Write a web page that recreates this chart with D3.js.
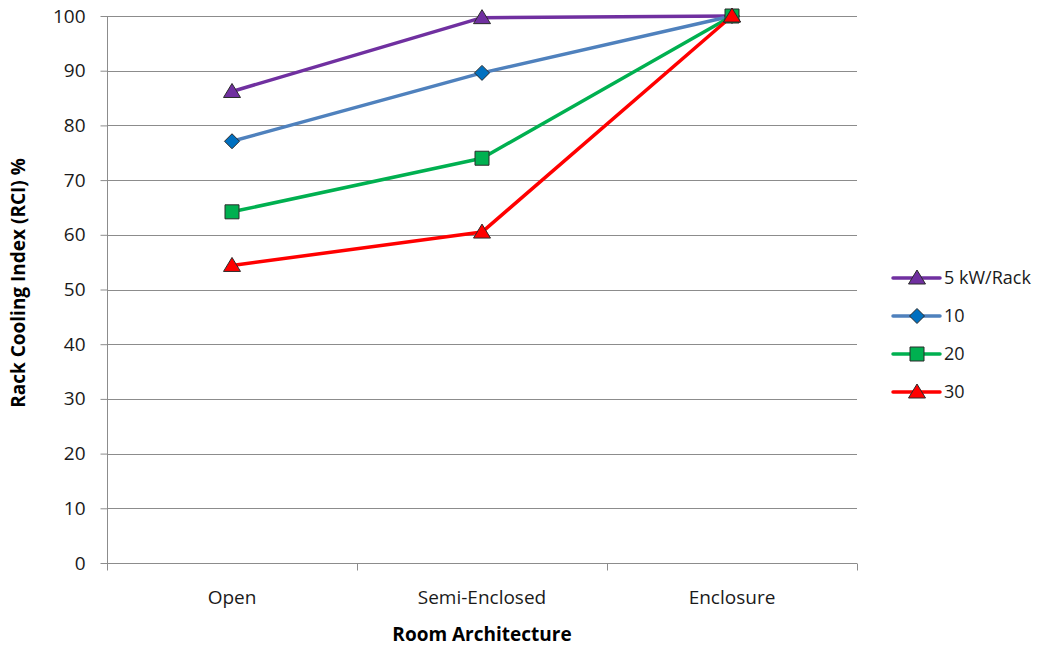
<!DOCTYPE html>
<html>
<head>
<meta charset="utf-8">
<script src="https://cdn.jsdelivr.net/npm/d3@7"></script>
<style>
  html, body { margin: 0; padding: 0; background: #fff; }
  svg { display: block; }
</style>
</head>
<body>
<svg id="chart" width="1047" height="647"></svg>
<script>
// Room architectures along the x axis
const categories = ["Open", "Semi-Enclosed", "Enclosure"];
// Rack Cooling Index (%) per rack power density
const rci5 = [86.2, 99.7, 100];
const rci10 = [77.1, 89.6, 100];
const rci20 = [64.2, 74.0, 100];
const rci30 = [54.4, 60.5, 100];
const seriesNames = ["5 kW/Rack", "10", "20", "30"];
const yTicks = [0, 10, 20, 30, 40, 50, 60, 70, 80, 90, 100];

const series = [
  { name: seriesNames[0], values: rci5, line: "#7030A0", fill: "#7030A0", shape: "triangle" },
  { name: seriesNames[1], values: rci10, line: "#4F81BD", fill: "#0070C0", shape: "diamond" },
  { name: seriesNames[2], values: rci20, line: "#00B050", fill: "#00B050", shape: "square" },
  { name: seriesNames[3], values: rci30, line: "#FF0000", fill: "#FF0000", shape: "triangle" }
];

const svg = d3.select("#chart");
const plot = { left: 107, right: 857, top: 16, bottom: 563 };

const x = d3.scaleBand().domain(categories).range([plot.left, plot.right]).padding(0);
const y = d3.scaleLinear().domain([0, 100]).range([plot.bottom, plot.top]);
const cx = c => x(c) + x.bandwidth() / 2;

const font = "'Open Sans', sans-serif";
const textColor = "#1a1a1a";

// Horizontal gridlines
svg.append("g")
  .selectAll("line")
  .data(yTicks.filter(t => t > 0))
  .join("line")
  .attr("x1", plot.left).attr("x2", plot.right)
  .attr("y1", d => Math.round(y(d)) + 0.5).attr("y2", d => Math.round(y(d)) + 0.5)
  .attr("stroke", "#8C8C8C").attr("stroke-width", 1);

// Y axis
const yAxis = svg.append("g")
  .attr("transform", `translate(${plot.left + 0.5},0)`)
  .call(d3.axisLeft(y).tickValues(yTicks).tickSize(7).tickPadding(15).tickFormat(d3.format("d")));
yAxis.select(".domain").attr("stroke", "#8C8C8C").attr("d", `M0,${plot.top}V${plot.bottom}`);
yAxis.selectAll(".tick line").attr("stroke", "#8C8C8C");
yAxis.selectAll(".tick text")
  .attr("font-family", font).attr("font-size", 19).attr("fill", textColor);

// X axis with boundary ticks between categories
const xAxisG = svg.append("g")
  .attr("transform", `translate(0,${Math.round(plot.bottom) + 0.5})`);
xAxisG.append("line")
  .attr("x1", plot.left).attr("x2", plot.right)
  .attr("stroke", "#8C8C8C");
const bounds = categories.map(c => x(c)).concat([x(categories[categories.length - 1]) + x.bandwidth()]);
xAxisG.selectAll("line.b")
  .data(bounds)
  .join("line")
  .attr("class", "b")
  .attr("x1", d => Math.round(d) + 0.5).attr("x2", d => Math.round(d) + 0.5)
  .attr("y1", 0).attr("y2", 7)
  .attr("stroke", "#8C8C8C");
xAxisG.selectAll("text")
  .data(categories)
  .join("text")
  .attr("x", d => cx(d))
  .attr("y", 40)
  .attr("text-anchor", "middle")
  .attr("font-family", font).attr("font-size", 19)
  .attr("fill", textColor)
  .text(d => d);

// Axis titles
svg.append("text")
  .attr("x", cx(categories[1])).attr("y", 641)
  .attr("text-anchor", "middle")
  .attr("font-family", font).attr("font-weight", "bold").attr("font-size", 19)
  .attr("fill", "#000")
  .text("Room Architecture");

svg.append("text")
  .attr("transform", `translate(25,283) rotate(-90)`)
  .attr("text-anchor", "middle")
  .attr("font-family", font).attr("font-weight", "bold").attr("font-size", 19)
  .attr("fill", "#000")
  .text("Rack Cooling Index (RCI) %");

// Marker shapes
function markerPath(shape) {
  if (shape === "triangle") return "M0,-8L8.5,6L-8.5,6Z";
  if (shape === "diamond") return "M0,-7.5L7.5,0L0,7.5L-7.5,0Z";
  return "M-7,-7H7V7H-7Z";
}

const line = d3.line().x((d, i) => cx(categories[i])).y(d => y(d));

series.forEach(s => {
  svg.append("path")
    .datum(s.values)
    .attr("d", line)
    .attr("fill", "none")
    .attr("stroke", s.line)
    .attr("stroke-width", 3.5)
    .attr("stroke-linejoin", "round");
});
series.forEach(s => {
  svg.append("g")
    .selectAll("path")
    .data(s.values)
    .join("path")
    .attr("transform", (d, i) => `translate(${cx(categories[i])},${y(d)})`)
    .attr("d", markerPath(s.shape))
    .attr("fill", s.fill)
    .attr("stroke", "#2B2B2B")
    .attr("stroke-width", 1);
});

// Legend
const legend = svg.append("g").attr("transform", "translate(893,0)");
const legendY = [278, 316, 354, 392];
series.forEach((s, i) => {
  const g = legend.append("g").attr("transform", `translate(0,${legendY[i]})`);
  g.append("line").attr("x1", 0).attr("x2", 47).attr("y1", 0).attr("y2", 0)
    .attr("stroke", s.line).attr("stroke-width", 3.5).attr("stroke-linecap", "round");
  g.append("path").attr("transform", "translate(24,0)")
    .attr("d", markerPath(s.shape))
    .attr("fill", s.fill).attr("stroke", "#2B2B2B").attr("stroke-width", 1);
  g.append("text").attr("x", 51).attr("y", 6)
    .attr("font-family", font).attr("font-size", 18).attr("fill", textColor)
    .text(s.name);
});
</script>
</body>
</html>
